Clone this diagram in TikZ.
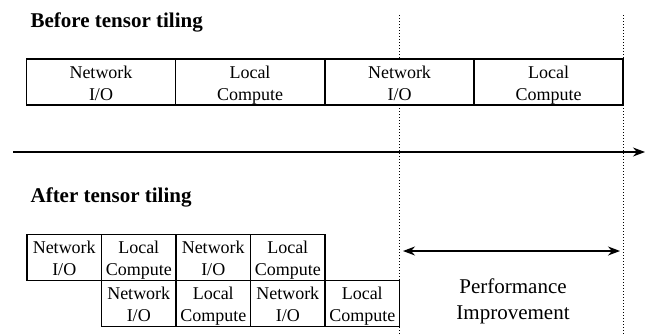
\documentclass[tikz,border=0pt]{standalone}
\usepackage{fontspec}
\setmainfont{Liberation Serif}
\usetikzlibrary{arrows.meta}
\newcommand{\cellstrut}{\rule[-4pt]{0pt}{22pt}}
\newcommand{\cell}[2]{#1\cellstrut\\#2\cellstrut}
\begin{document}
\begin{tikzpicture}[x=1pt, y=-1pt, line width=1.2pt,
    >={Stealth[length=12pt, width=9pt]},
    phase/.style={draw, fill=white, align=center, inner sep=0pt,
                  minimum width=149pt, minimum height=46pt,
                  font=\rmfamily\fontsize{18}{22}\selectfont},
    tile/.style={phase, minimum width=74.5pt, minimum height=45.5pt},
    heading/.style={anchor=base west, inner sep=0pt,
                  font=\rmfamily\fontsize{21}{25}\selectfont\bfseries},
    guide/.style={dotted, line width=1pt}]
  \useasboundingbox (0,0) rectangle (645,335);
  % dotted guides
  \coordinate (g1t) at (399.5,15);
  \coordinate (g1b) at (399.5,335);
  \coordinate (g2t) at (623,15);
  \coordinate (g2b) at (623,335);
  \draw[guide] (g1t) -- (g1b);
  \draw[guide] (g2t) -- (g2b);
  % before
  \node[heading] (before) at (30,27) {Before tensor tiling};
  \node[phase] (b1) at (101,82) {\cell{Network}{I/O}};
  \node[phase] (b2) at (250,82) {\cell{Local}{Compute}};
  \node[phase] (b3) at (399.5,82) {\cell{Network}{I/O}};
  \node[phase] (b4) at (548.5,82) {\cell{Local}{Compute}};
  % time axis
  \coordinate (t0) at (13,152);
  \coordinate (t1) at (645,152);
  \draw[->] (t0) -- (t1);
  % after
  \node[heading] (after) at (30,202) {After tensor tiling};
  \node[tile] (a1) at (64.25,257.5) {\cell{Network}{I/O}};
  \node[tile] (a2) at (138.75,257.5) {\cell{Local}{Compute}};
  \node[tile] (a3) at (213.25,257.5) {\cell{Network}{I/O}};
  \node[tile] (a4) at (287.75,257.5) {\cell{Local}{Compute}};
  \node[tile] (c1) at (138.75,303.5) {\cell{Network}{I/O}};
  \node[tile] (c2) at (213.25,303.5) {\cell{Local}{Compute}};
  \node[tile] (c3) at (287.75,303.5) {\cell{Network}{I/O}};
  \node[tile] (c4) at (362.25,303.5) {\cell{Local}{Compute}};
  % gain
  \coordinate (gl) at (403,251);
  \coordinate (gr) at (620,251);
  \draw[<->] (gl) -- (gr);
  \node[align=center, font=\rmfamily\fontsize{21}{26}\selectfont] (gain) at (513,301)
    {Performance\\Improvement};
\end{tikzpicture}
\end{document}
